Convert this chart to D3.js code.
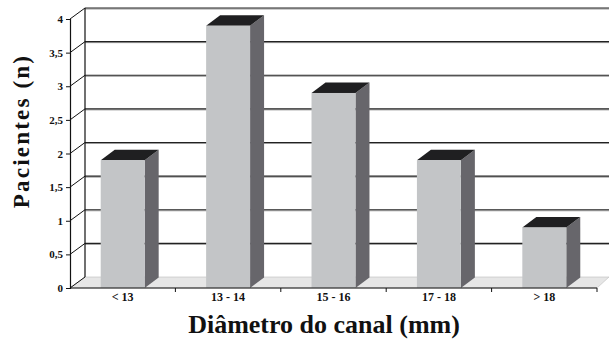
<!DOCTYPE html>
<html>
<head>
<meta charset="utf-8">
<script src="https://cdn.jsdelivr.net/npm/d3@7"></script>
<style>
  html, body { margin: 0; padding: 0; background: #fff; }
  svg { display: block; }
  text { font-family: "Liberation Serif", "Times New Roman", serif; font-weight: bold; fill: #111; }
</style>
</head>
<body>
<svg id="chart" width="609" height="339"></svg>
<script>
// Number of patients per canal diameter range
const categories = ["< 13", "13 - 14", "15 - 16", "17 - 18", "> 18"];
const patients = [1.9, 3.9, 2.9, 1.9, 0.9];
const yTickValues = [0, 0.5, 1, 1.5, 2, 2.5, 3, 3.5, 4];
const yTickLabels = ["0", "0,5", "1", "1,5", "2", "2,5", "3", "3,5", "4"];

const svg = d3.select("#chart");

// Front plane geometry and wall depth offset
const left = 70, right = 597, zeroY = 288, topY = 19;
const wallDx = 15, wallDy = -11;
const barDx = 14, barDy = -10.4;

const x = d3.scaleBand().domain(categories).range([left, right])
  .paddingInner(0.583).paddingOuter(0.2915);
const y = d3.scaleLinear().domain([0, 4]).range([zeroY, topY]);

// Back wall
const backLeft = left + wallDx;
svg.append("rect")
  .attr("x", backLeft).attr("y", y(4) + wallDy)
  .attr("width", 609 - backLeft).attr("height", y(0) - y(4))
  .attr("fill", "#fff");

// Floor
svg.append("polygon")
  .attr("points", [
    [left, y(0)], [right, y(0)], [609, y(0) + wallDy], [backLeft, y(0) + wallDy]
  ].map(p => p.join(",")).join(" "))
  .attr("fill", "#e6e6e6")
  .attr("stroke", "#bdbdbd").attr("stroke-width", 0.6);

// Grid lines on the back wall
const gridVals = yTickValues.filter(v => v > 0);
svg.selectAll("line.gridShade").data(gridVals).join("line")
  .attr("class", "gridShade")
  .attr("x1", backLeft).attr("x2", 609)
  .attr("y1", d => y(d) + wallDy + 1).attr("y2", d => y(d) + wallDy + 1)
  .attr("stroke", "#9a9a9a").attr("stroke-width", 1);
svg.selectAll("line.grid").data(gridVals).join("line")
  .attr("class", "grid")
  .attr("x1", backLeft).attr("x2", 609)
  .attr("y1", d => y(d) + wallDy).attr("y2", d => y(d) + wallDy)
  .attr("stroke", "#222").attr("stroke-width", 1.1);

// Side wall: diagonal tick lines and edges
svg.selectAll("line.side").data(yTickValues).join("line")
  .attr("class", "side")
  .attr("x1", left).attr("y1", d => y(d))
  .attr("x2", backLeft).attr("y2", d => y(d) + wallDy)
  .attr("stroke", "#111").attr("stroke-width", 1);
svg.append("line")
  .attr("x1", backLeft).attr("x2", backLeft)
  .attr("y1", y(0) + wallDy).attr("y2", y(4) + wallDy)
  .attr("stroke", "#111").attr("stroke-width", 1.2);

// Bars (side face, top face, front face)
const bars = svg.append("g").selectAll("g").data(categories.map((c, i) => ({ c, v: patients[i] })))
  .join("g");
bars.append("polygon")
  .attr("points", d => {
    const x0 = x(d.c) + x.bandwidth(), yt = y(d.v);
    return [[x0, yt], [x0, y(0)], [x0 + barDx, y(0) + barDy], [x0 + barDx, yt + barDy]]
      .map(p => p.join(",")).join(" ");
  })
  .attr("fill", "#67666b");
bars.append("polygon")
  .attr("points", d => {
    const x0 = x(d.c), x1 = x0 + x.bandwidth(), yt = y(d.v);
    return [[x0, yt], [x1, yt], [x1 + barDx, yt + barDy], [x0 + barDx, yt + barDy]]
      .map(p => p.join(",")).join(" ");
  })
  .attr("fill", "#1f1f21");
bars.append("rect")
  .attr("x", d => x(d.c)).attr("y", d => y(d.v))
  .attr("width", x.bandwidth()).attr("height", d => y(0) - y(d.v))
  .attr("fill", "#c3c5c7");

// Front vertical axis with ticks and labels
const yAxis = d3.axisLeft(y).tickValues(yTickValues)
  .tickFormat((d, i) => yTickLabels[i]).tickSize(4).tickPadding(3);
const gy = svg.append("g").attr("transform", `translate(${left},0)`).call(yAxis);
gy.select(".domain").attr("stroke", "#111").attr("stroke-width", 1.2);
gy.selectAll(".tick line").attr("stroke", "#111");
gy.selectAll(".tick text").attr("font-size", 11).attr("fill", "#111");

// Front horizontal axis with category boundary ticks
svg.append("line")
  .attr("x1", left).attr("x2", right).attr("y1", y(0)).attr("y2", y(0))
  .attr("stroke", "#111").attr("stroke-width", 1.2);
const bounds = categories.map(c => x(c) - (x.step() - x.bandwidth()) / 2 + x.step());
svg.selectAll("line.xtick").data(bounds).join("line")
  .attr("class", "xtick")
  .attr("x1", d => d).attr("x2", d => d)
  .attr("y1", y(0)).attr("y2", y(0) + 4)
  .attr("stroke", "#111");
svg.selectAll("text.xlab").data(categories).join("text")
  .attr("class", "xlab")
  .attr("x", d => x(d) + x.bandwidth() / 2)
  .attr("y", 301)
  .attr("text-anchor", "middle")
  .attr("font-size", 12)
  .text(d => d);

// Axis titles
svg.append("text")
  .attr("x", 324).attr("y", 333)
  .attr("text-anchor", "middle")
  .attr("font-size", 26)
  .text("Diâmetro do canal (mm)");
svg.append("text")
  .attr("transform", "translate(29,131) rotate(-90)")
  .attr("text-anchor", "middle")
  .attr("font-size", 23)
  .attr("letter-spacing", 2.2)
  .text("Pacientes  (n)");
</script>
</body>
</html>
